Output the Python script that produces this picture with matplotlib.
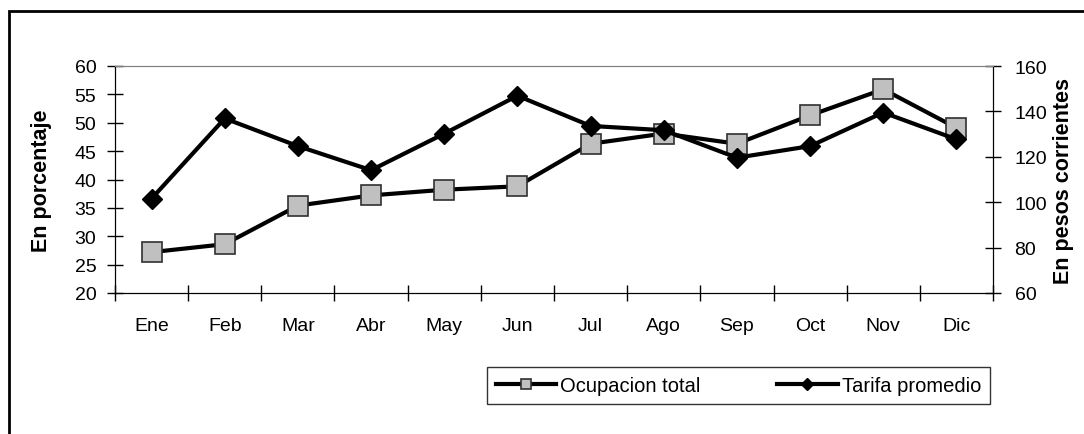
import numpy as np
import matplotlib
matplotlib.use("Agg")
import matplotlib.pyplot as plt
from matplotlib.patches import Rectangle

plt.rcParams['font.family'] = ['Liberation Sans', 'DejaVu Sans']

months = ["Ene", "Feb", "Mar", "Abr", "May", "Jun", "Jul", "Ago", "Sep", "Oct", "Nov", "Dic"]
ocupacion = [27.2, 28.6, 35.4, 37.2, 38.2, 38.8, 46.3, 48.1, 46.3, 51.3, 55.9, 49.1]
tarifa = [101.6, 136.9, 124.7, 114.1, 130.2, 146.9, 133.6, 131.7, 119.6, 124.7, 139.5, 127.7]

W, H = 1084, 435
fig = plt.figure(figsize=(W / 100, H / 100), dpi=100)
ax = fig.add_axes([115 / W, 1 - 294 / H, (993 - 115) / W, (294 - 67) / H])
ax2 = ax.twinx()

x = np.arange(len(months))

l1, = ax.plot(x, ocupacion, color='black', lw=3, marker='s', ms=14,
              mfc='#C0C0C0', mec='#303030', mew=1.2, label='Ocupacion total')
l2, = ax2.plot(x, tarifa, color='black', lw=3, marker='D', ms=10.5,
               mfc='black', mec='black', label='Tarifa promedio')

ax.set_xlim(-0.5, len(months) - 0.5)
ax.set_ylim(20, 60)
ax.set_yticks(np.arange(20, 61, 5))
ax2.set_ylim(60, 160)
ax2.set_yticks(np.arange(60, 161, 20))

ax.set_xticks(x)
ax.set_xticklabels(months)
ax.set_xticks(np.arange(-0.5, len(months), 1), minor=True)
ax.tick_params(axis='x', which='major', length=0, pad=17, labelsize=14)
ax.tick_params(axis='x', which='minor', direction='inout', length=11, width=1)
ax.tick_params(axis='y', direction='inout', length=11, width=1, pad=8, labelsize=14)
ax2.tick_params(axis='y', direction='inout', length=11, width=1, pad=10, labelsize=14)

for a in (ax, ax2):
    a.spines['top'].set_color('#808080')
    a.spines['left'].set_color('black')
    a.spines['bottom'].set_color('black')
    a.spines['right'].set_color('black')

ax.set_ylabel('En porcentaje', fontsize=15.5, fontweight='bold', labelpad=16)
ax2.set_ylabel('En pesos corrientes', fontsize=15.5, fontweight='bold', labelpad=4)

leg = fig.legend([l1, l2], ['Ocupacion total', 'Tarifa promedio'], ncol=2,
                 loc='center', bbox_to_anchor=((485 + 992) / 2 / W, 1 - 386.5 / H),
                 fontsize=14.5, frameon=True, fancybox=False, markerscale=0.55,
                 handlelength=3.0, columnspacing=3.8, borderpad=0.45,
                 handletextpad=0.2, borderaxespad=0)
leg.get_frame().set_edgecolor('black')
leg.get_frame().set_linewidth(1)

fig.patches.append(Rectangle((9 / W, -0.1), 2, (H - 12) / H + 0.1,
                             transform=fig.transFigure, fill=False,
                             edgecolor='black', linewidth=2))

fig.savefig('out.png', dpi=100)
